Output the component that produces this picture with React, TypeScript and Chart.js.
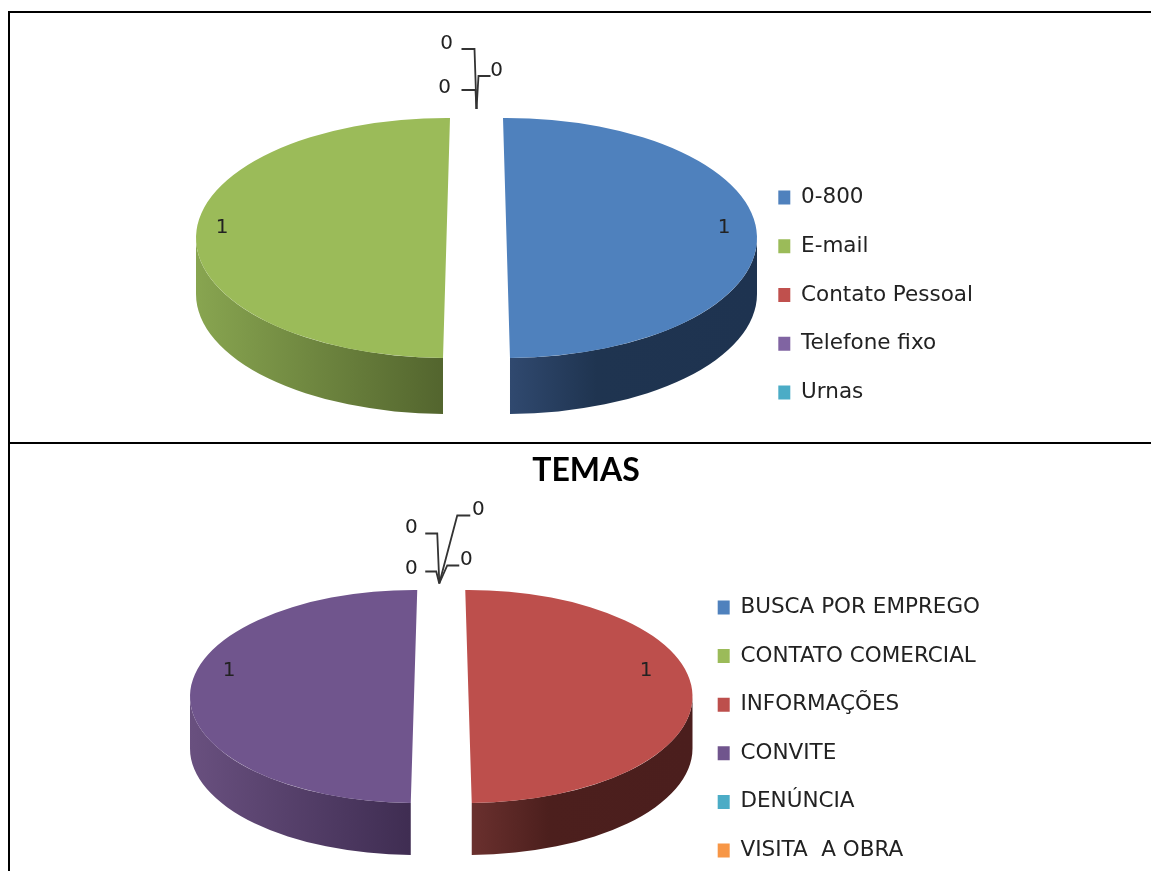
import React, { useEffect, useRef } from "react";
import { Chart, registerables } from "chart.js";

Chart.register(...registerables);

// Canais de contato
const channelLabels = ["0-800", "E-mail", "Contato Pessoal", "Telefone fixo", "Urnas"];
const channelValues = [1, 1, 0, 0, 0];
const channelColors = ["#4f81bd", "#9bbb59", "#c0504d", "#8064a2", "#4bacc6"];

// Temas
const themeLabels = ["BUSCA POR EMPREGO", "CONTATO COMERCIAL", "INFORMAÇÕES", "CONVITE", "DENÚNCIA", "VISITA  A OBRA"];
const themeValues = [0, 0, 1, 1, 0, 0];
const themeColors = ["#4f81bd", "#9bbb59", "#bd4f4c", "#70558d", "#4bacc6", "#f79646"];
const themeTitle = "TEMAS";

const FONT = '"DejaVu Sans", sans-serif';

// Side-wall shading per slice colour: [left stop, right stop] pairs along the wall
const wallShades: Record<string, [number, string][]> = {
  "#4f81bd": [[0, "#30496f"], [0.35, "#1f3450"], [1, "#1e3350"]],
  "#9bbb59": [[0, "#88a550"], [1, "#53652e"]],
  "#bd4f4c": [[0, "#6a302e"], [0.35, "#4c1f1d"], [1, "#4b1e1d"]],
  "#70558d": [[0, "#69507f"], [1, "#3f2d52"]],
};

type Callout = { label: [number, number]; line: [number, number][] };

type PieOpts = {
  center: [number, number];
  tilt: number;
  depth: number;
  explode: number;
  lean: number;
  valueOffsets: [number, number][];
  callouts: Callout[];
};

// Extruded, flattened pie: slices pushed apart and leaned by perspective,
// walls first, squashed faces next, value labels last.
const tiltedPie = {
  id: "tiltedPie",
  afterDatasetsUpdate(chart: any, _a: any, o: PieOpts) {
    const lean = (o.lean * Math.PI) / 180;
    chart.getDatasetMeta(0).data.forEach((arc: any) => {
      const side = Math.sign(Math.cos((arc.startAngle + arc.endAngle) / 2));
      arc.x += side * o.explode;
      arc.startAngle -= side * lean;
      arc.endAngle -= side * lean;
    });
  },
  beforeDatasetsDraw(chart: any, _a: any, o: PieOpts) {
    const ctx = chart.ctx;
    const arcs = chart.getDatasetMeta(0).data;
    const bg = chart.data.datasets[0].backgroundColor;
    arcs.forEach((arc: any, i: number) => {
      const span = arc.endAngle - arc.startAngle;
      if (span <= 0) return;
      const mid = (arc.startAngle + arc.endAngle) / 2;
      const cx = o.center[0] + Math.sign(Math.cos(mid)) * o.explode;
      const cy = o.center[1];
      const rx = arc.outerRadius;
      const ry = rx * o.tilt;
      const a = Math.max(arc.startAngle, 0);
      const b = Math.min(arc.endAngle, Math.PI);
      if (b <= a) return;
      const x0 = cx + Math.cos(b) * rx;
      const x1 = cx + Math.cos(a) * rx;
      const g = ctx.createLinearGradient(x0, 0, x1, 0);
      (wallShades[bg[i]] || [[0, bg[i]], [1, bg[i]]]).forEach(([s, c]) => g.addColorStop(s, c));
      ctx.save();
      ctx.beginPath();
      ctx.ellipse(cx, cy, rx, ry, 0, a, b, false);
      ctx.ellipse(cx, cy + o.depth, rx, ry, 0, b, a, true);
      ctx.closePath();
      ctx.fillStyle = g;
      ctx.fill();
      ctx.restore();
    });
  },
  beforeDatasetDraw(chart: any, _a: any, o: PieOpts) {
    const ctx = chart.ctx;
    const area = chart.chartArea;
    ctx.save();
    ctx.translate(o.center[0], o.center[1]);
    ctx.scale(1, o.tilt);
    ctx.translate(-(area.left + area.right) / 2, -(area.top + area.bottom) / 2);
  },
  afterDatasetDraw(chart: any) {
    chart.ctx.restore();
  },
  afterDatasetsDraw(chart: any, _a: any, o: PieOpts) {
    const ctx = chart.ctx;
    const values = chart.data.datasets[0].data as number[];
    ctx.save();
    ctx.font = `20px ${FONT}`;
    ctx.fillStyle = "#222";
    ctx.textAlign = "center";
    ctx.textBaseline = "middle";
    let big = 0;
    let zero = 0;
    values.forEach((v) => {
      if (v > 0) {
        const off = o.valueOffsets[big++];
        ctx.fillText(String(v), o.center[0] + off[0], o.center[1] + off[1]);
      } else {
        const c = o.callouts[zero++];
        ctx.strokeStyle = "#333";
        ctx.lineWidth = 1.8;
        ctx.beginPath();
        c.line.forEach(([x, y], k) => {
          const px = o.center[0] + x;
          const py = o.center[1] + y;
          if (k === 0) ctx.moveTo(px, py);
          else ctx.lineTo(px, py);
        });
        ctx.stroke();
        ctx.fillText(String(v), o.center[0] + c.label[0], o.center[1] + c.label[1]);
      }
    });
    ctx.restore();
  },
};

function PieChart(props: {
  labels: string[];
  values: number[];
  colors: string[];
  title?: string;
  width: number;
  height: number;
  left: number;
  top: number;
  radius: number;
  padding: { top: number; right: number; bottom: number; left: number };
  legendGap: number;
  pie: PieOpts;
}) {
  const ref = useRef<HTMLCanvasElement>(null);
  useEffect(() => {
    const chart = new Chart(ref.current as HTMLCanvasElement, {
      type: "pie",
      plugins: [tiltedPie],
      data: {
        labels: props.labels,
        datasets: [
          {
            data: props.values,
            backgroundColor: props.colors,
            borderWidth: 0,
            clip: false,
          } as any,
        ],
      },
      options: {
        animation: false,
        responsive: false,
        radius: props.radius,
        layout: { padding: props.padding },
        events: [],
        plugins: {
          tooltip: { enabled: false },
          title: props.title
            ? {
                display: true,
                text: props.title,
                color: "#000",
                font: { family: "Lato, sans-serif", size: 32, weight: "bold" },
                padding: { top: 7, bottom: 11 },
              }
            : { display: false },
          legend: {
            position: "right",
            labels: {
              boxWidth: 12,
              boxHeight: 14,
              padding: props.legendGap,
              color: "#222",
              font: { family: FONT, size: 21.5 },
            },
          },
          tiltedPie: props.pie,
        } as any,
      },
    });
    return () => chart.destroy();
  }, []);
  return (
    <canvas
      ref={ref}
      width={props.width}
      height={props.height}
      style={{ position: "absolute", left: props.left, top: props.top, width: props.width, height: props.height }}
    />
  );
}

const rule = (left: number, top: number, width: number, height: number) => (
  <div style={{ position: "absolute", left, top, width, height, background: "#000" }} />
);

export default function App() {
  return (
    <div style={{ position: "absolute", left: 0, top: 0, width: 1151, height: 871, overflow: "hidden", background: "#fff" }}>
      {rule(8, 11, 1143, 2)}
      {rule(8, 442, 1143, 2)}
      {rule(8, 11, 2, 860)}
      <PieChart
        labels={channelLabels}
        values={channelValues}
        colors={channelColors}
        left={10}
        top={13}
        width={1141}
        height={429}
        radius={250.5}
        legendGap={27.25}
        padding={{ top: 135, right: 168, bottom: 0, left: 0 }}
        pie={{
          center: [466.5, 225],
          tilt: 0.479,
          depth: 56,
          explode: 30,
          lean: 0.8,
          valueOffsets: [[247.5, -10], [-254.5, -10]],
          callouts: [
            { label: [-30, -194], line: [[-15, -189], [-2, -189], [0, -129]] },
            { label: [-32, -150], line: [[-15, -148], [-1, -148], [0, -129]] },
            { label: [20, -167], line: [[14, -162], [2, -162], [0, -129]] },
          ],
        }}
      />
      <PieChart
        labels={themeLabels}
        values={themeValues}
        colors={themeColors}
        title={themeTitle}
        left={21}
        top={444}
        width={1130}
        height={570}
        radius={224}
        legendGap={27.1}
        padding={{ top: 0, right: 161, bottom: 0, left: 161 }}
        pie={{
          center: [420.25, 252.5],
          tilt: 0.475,
          depth: 52,
          explode: 27.25,
          lean: 0.83,
          valueOffsets: [[204.75, -26], [-212.25, -26]],
          callouts: [
            { label: [-30, -169], line: [[-16, -163], [-4, -163], [-2, -115]] },
            { label: [-30, -128], line: [[-16, -125], [-5, -125], [-2, -113]] },
            { label: [37, -187], line: [[29, -181], [16, -181], [-2, -113]] },
            { label: [25, -137], line: [[18, -131], [6, -131], [-2, -113]] },
          ],
        }}
      />
    </div>
  );
}
